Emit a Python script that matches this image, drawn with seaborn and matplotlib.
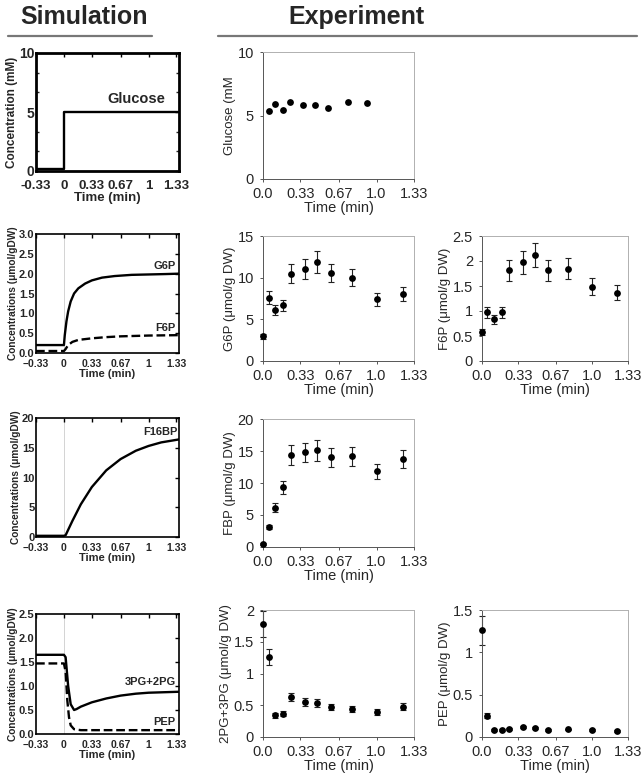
import matplotlib
matplotlib.use("Agg")
import matplotlib.pyplot as plt
import seaborn as sns
import numpy as np
import pandas as pd
from matplotlib.ticker import FixedLocator

sns.set_theme(style="white")
plt.rcParams['font.family'] = ['Liberation Sans', 'DejaVu Sans']

W, H = 643, 776

# ---------------- data ----------------
# Simulation
sim_glc_t = [-0.33, 0.0, 0.0, 1.36]
sim_glc_v = [0.2, 0.2, 5.0, 5.0]

sim_g6p_t = [-0.33, 0.0, 0.01, 0.03, 0.05, 0.08, 0.12, 0.17, 0.25, 0.33, 0.45, 0.6, 0.8, 1.0, 1.2, 1.36]
sim_g6p_v = [0.2, 0.2, 0.45, 0.8, 1.05, 1.3, 1.5, 1.63, 1.75, 1.83, 1.9, 1.94, 1.97, 1.98, 1.99, 2.0]
sim_f6p_t = [-0.33, 0.0, 0.02, 0.05, 0.1, 0.17, 0.25, 0.33, 0.5, 0.67, 1.0, 1.36]
sim_f6p_v = [0.05, 0.05, 0.1, 0.2, 0.28, 0.33, 0.35, 0.37, 0.4, 0.42, 0.44, 0.45]

sim_fbp_t = [-0.33, 0.0, 0.02, 0.1, 0.2, 0.33, 0.5, 0.67, 0.85, 1.0, 1.15, 1.36]
sim_fbp_v = [0.2, 0.2, 0.3, 2.7, 5.5, 8.4, 11.2, 13.1, 14.5, 15.3, 15.9, 16.4]

sim_pg_t = [-0.33, 0.0, 0.02, 0.05, 0.08, 0.12, 0.15, 0.2, 0.33, 0.5, 0.67, 0.85, 1.0, 1.36]
sim_pg_v = [1.65, 1.65, 1.6, 1.0, 0.62, 0.5, 0.52, 0.57, 0.66, 0.74, 0.8, 0.84, 0.86, 0.88]
sim_pep_t = [-0.33, 0.0, 0.02, 0.04, 0.06, 0.08, 0.12, 0.2, 1.36]
sim_pep_v = [1.47, 1.47, 1.3, 0.7, 0.35, 0.18, 0.1, 0.08, 0.08]

# Experiment
exp_t = [0.0, 0.05, 0.11, 0.18, 0.25, 0.37, 0.48, 0.6, 0.78, 1.0, 1.23]
glc_t = [0.05, 0.11, 0.177, 0.236, 0.351, 0.458, 0.576, 0.745, 0.913]
glc_v = [5.39, 5.91, 5.47, 6.09, 5.85, 5.85, 5.57, 6.09, 5.98]

g6p_v = [3.0, 7.6, 6.1, 6.7, 10.5, 11.0, 11.9, 10.6, 10.0, 7.4, 8.0]
g6p_e = [0.3, 0.75, 0.6, 0.65, 1.1, 1.2, 1.3, 1.1, 1.0, 0.8, 0.85]
f6p_v = [0.58, 0.98, 0.84, 0.98, 1.82, 1.98, 2.12, 1.82, 1.85, 1.49, 1.37]
f6p_e = [0.06, 0.11, 0.09, 0.11, 0.21, 0.23, 0.24, 0.21, 0.21, 0.17, 0.15]
fbp_v = [0.5, 3.1, 6.1, 9.3, 14.4, 14.8, 15.1, 14.0, 14.2, 11.8, 13.8]
fbp_e = [0.2, 0.35, 0.7, 1.0, 1.6, 1.5, 1.6, 1.5, 1.5, 1.2, 1.4]
pg_v = [1.78, 1.26, 0.34, 0.37, 0.63, 0.55, 0.54, 0.47, 0.44, 0.39, 0.48]
pg_e = [0.2, 0.13, 0.04, 0.04, 0.07, 0.06, 0.06, 0.05, 0.05, 0.05, 0.06]
pep_v = [1.26, 0.25, 0.08, 0.085, 0.095, 0.115, 0.105, 0.085, 0.09, 0.08, 0.07]
pep_e = [0.17, 0.03, 0.01, 0.01, 0.01, 0.01, 0.01, 0.01, 0.01, 0.01, 0.01]

sim_xticks = [-0.33, 0, 0.33, 0.67, 1, 1.33]
exp_xticks = [0.0, 0.33, 0.67, 1.0, 1.33]
exp_xlabels = ["0.0", "0.33", "0.67", "1.0", "1.33"]

fig = plt.figure(figsize=(W / 100, H / 100), dpi=100)
fig.patch.set_facecolor('white')


def rect(l, t, r, b):
    return [l / W, 1 - b / H, (r - l) / W, (b - t) / H]


# headers
fig.text(84 / W, 1 - 17 / H, "Simulation", ha='center', va='center',
         fontsize=18, fontweight='bold')
fig.text(356 / W, 1 - 17 / H, "Experiment", ha='center', va='center',
         fontsize=18, fontweight='bold')
fig.add_artist(plt.Line2D([8 / W, 152 / W], [1 - 36 / H] * 2, color='#777777', lw=1.6))
fig.add_artist(plt.Line2D([218 / W, 637 / W], [1 - 36 / H] * 2, color='#777777', lw=1.6))


def sim_axes(r, ylim, yticks, ylabels, ylabel, big=False):
    ax = fig.add_axes(rect(*r))
    ax.set_facecolor('white')
    ax.set_xlim(-0.33, 1.36)
    ax.set_ylim(*ylim)
    xfs = 9.5 if big else 7.5
    ax.set_xticks(sim_xticks)
    xl = ["-0.33", "0", "0.33", "0.67", "1", "1.33"] if big else ["\u22120.33", "0", "0.33", "0.67", "1", "1.33"]
    ax.set_xticklabels(xl, fontsize=xfs, fontweight='bold')
    ax.set_yticks(yticks)
    ax.set_yticklabels(ylabels, fontsize=10 if big else 8, fontweight='bold')
    ax.tick_params(direction='in', top=True, right=True, length=3, width=1, pad=1,
                   color='black')
    ax.tick_params(axis='x', pad=6.5 if big else 4.5)
    for s in ax.spines.values():
        s.set_color('black')
        s.set_linewidth(2.0 if big else 1.2)
    ax.set_xlabel("Time (min)", fontsize=9.5 if big else 8, fontweight='bold', labelpad=0)
    ax.set_ylabel(ylabel, fontsize=8.5 if big else 7.3, fontweight='bold', labelpad=1)
    ax.grid(False)
    return ax


def exp_axes(r, ylim, yticks, ylabels, ylabel):
    ax = fig.add_axes(rect(*r))
    ax.set_facecolor('white')
    ax.set_xlim(0, 1.33)
    ax.set_ylim(*ylim)
    ax.set_xticks(exp_xticks)
    ax.set_xticklabels(exp_xlabels, fontsize=10.5)
    ax.set_yticks(yticks)
    ax.set_yticklabels(ylabels, fontsize=10.5)
    ax.tick_params(direction='out', length=2.5, width=0.7, pad=4, color='#555555',
                   bottom=True, left=True)
    ax.tick_params(axis='x', pad=3)
    for s in ax.spines.values():
        s.set_color('#b0b0b0')
        s.set_linewidth(0.7)
    ax.spines['left'].set_color('#555555')
    ax.spines['bottom'].set_color('#555555')
    ax.set_xlabel("Time (min)", fontsize=10.5, labelpad=0)
    ax.set_ylabel(ylabel, fontsize=9.5, labelpad=1)
    ax.grid(False)
    return ax


def sim_line(ax, t, v, dashed=False):
    sns.lineplot(x=t, y=v, ax=ax, color='black', lw=1.7, sort=False, estimator=None,
                 linestyle='--' if dashed else '-')


def exp_points(ax, t, v, e=None):
    if e is not None:
        ax.errorbar(t, v, yerr=e, fmt='none', ecolor='#222222', elinewidth=0.8,
                    capsize=2.5, capthick=0.8, clip_on=False, zorder=2)
    sns.scatterplot(x=t, y=v, ax=ax, color='black', s=24, linewidth=0, zorder=3,
                    clip_on=False)


# ---------------- Simulation column ----------------
ax = sim_axes((36, 53, 179, 171), (0, 10), [0, 5, 10], ["0", "5", "10"],
              "Concentration (mM)", big=True)
ax.yaxis.set_minor_locator(FixedLocator([1.67, 3.33, 6.67, 8.33]))
ax.tick_params(which='minor', direction='in', length=2.5, width=1, left=True, right=True)
sim_line(ax, sim_glc_t, sim_glc_v)
ax.text(1.2, 5.5, "Glucose", ha='right', va='bottom', fontsize=10.5, fontweight='bold')

ax = sim_axes((36, 234, 179, 353), (0, 3.0), [0, 0.5, 1.0, 1.5, 2.0, 2.5, 3.0],
              ["0.0", "0.5", "1.0", "1.5", "2.0", "2.5", "3.0"],
              "Concentrations (\u03bcmol/gDW)")
ax.axvline(0, color='#cccccc', lw=0.6, zorder=0)
sim_line(ax, sim_g6p_t, sim_g6p_v)
sim_line(ax, sim_f6p_t, sim_f6p_v, dashed=True)
ax.text(1.32, 2.07, "G6P", ha='right', va='bottom', fontsize=8, fontweight='bold')
ax.text(1.32, 0.5, "F6P", ha='right', va='bottom', fontsize=8, fontweight='bold')

ax = sim_axes((36, 418, 179, 537), (0, 20), [0, 5, 10, 15, 20],
              ["0", "5", "10", "15", "20"], "Concentrations (\u03bcmol/gDW)")
ax.axvline(0, color='#cccccc', lw=0.6, zorder=0)
sim_line(ax, sim_fbp_t, sim_fbp_v)
ax.text(1.34, 16.8, "F16BP", ha='right', va='bottom', fontsize=8, fontweight='bold')

ax = sim_axes((36, 614, 179, 734), (0, 2.5), [0, 0.5, 1.0, 1.5, 2.0, 2.5],
              ["0.0", "0.5", "1.0", "1.5", "2.0", "2.5"], "Concentrations (\u03bcmol/gDW)")
ax.axvline(0, color='#cccccc', lw=0.6, zorder=0)
sim_line(ax, sim_pg_t, sim_pg_v)
sim_line(ax, sim_pep_t, sim_pep_v, dashed=True)
ax.text(1.32, 0.97, "3PG+2PG", ha='right', va='bottom', fontsize=8, fontweight='bold')
ax.text(1.32, 0.15, "PEP", ha='right', va='bottom', fontsize=8, fontweight='bold')

# ---------------- Experiment columns ----------------
C1 = (263, 414)
C2 = (482, 628)

ax = exp_axes((C1[0], 52, C1[1], 179), (0, 10), [0, 5, 10], ["0", "5", "10"], "Glucose (mM")
exp_points(ax, glc_t, glc_v)

ax = exp_axes((C1[0], 236, C1[1], 361), (0, 15), [0, 5, 10, 15], ["0", "5", "10", "15"],
              "G6P (\u03bcmol/g DW)")
exp_points(ax, exp_t, g6p_v, g6p_e)

ax = exp_axes((C2[0], 236, C2[1], 361), (0, 2.5), [0, 0.5, 1, 1.5, 2, 2.5],
              ["0", "0.5", "1", "1.5", "2", "2.5"], "F6P (\u03bcmol/g DW)")
exp_points(ax, exp_t, f6p_v, f6p_e)

ax = exp_axes((C1[0], 419, C1[1], 547), (0, 20), [0, 5, 10, 15, 20],
              ["0", "5", "10", "15", "20"], "FBP (\u03bcmol/g DW)")
exp_points(ax, exp_t, fbp_v, fbp_e)

ax = exp_axes((C1[0], 610, C1[1], 737), (0, 2), [0, 0.5, 1, 1.5, 2],
              ["0", "0.5", "1", "1.5", "2"], "2PG+3PG (\u03bcmol/g DW)")
exp_points(ax, exp_t, pg_v, pg_e)

ax = exp_axes((C2[0], 610, C2[1], 737), (0, 1.5), [0, 0.5, 1, 1.5],
              ["0", "0.5", "1", "1.5"], "PEP (\u03bcmol/g DW)")
exp_points(ax, exp_t, pep_v, pep_e)

fig.savefig("out.png", dpi=100, facecolor='white')
